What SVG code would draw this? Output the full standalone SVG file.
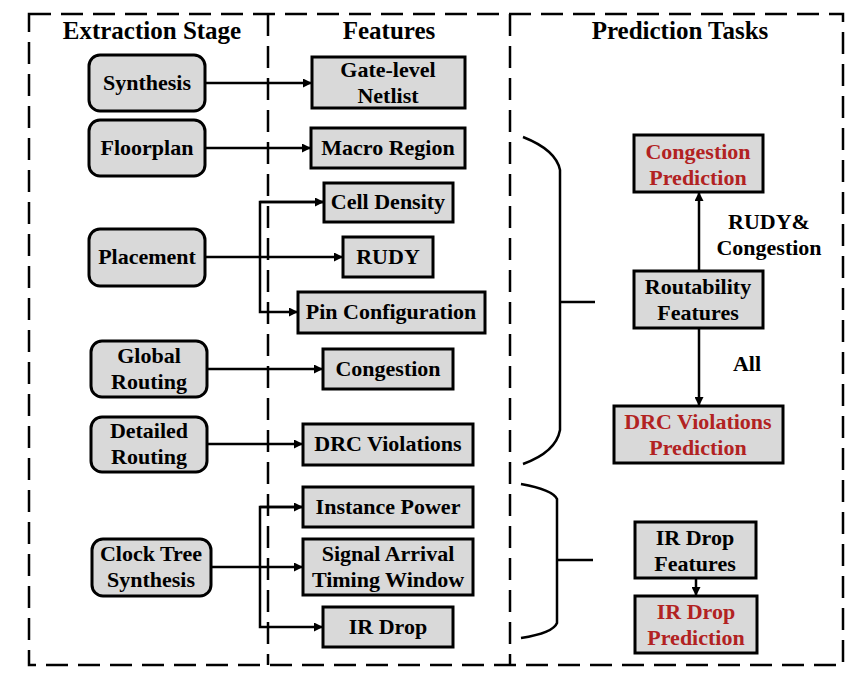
<svg xmlns="http://www.w3.org/2000/svg" width="864" height="678" viewBox="0 0 864 678" font-family="'Liberation Serif', 'DejaVu Serif', serif" font-weight="bold">
<defs>
<style>
.frame{fill:none;stroke:#000;stroke-width:2.5;stroke-dasharray:22 10}
.stage{fill:#d9d9d9;stroke:#000;stroke-width:3}
.feat{fill:#d9d9d9;stroke:#000;stroke-width:3}
text{text-anchor:middle;fill:#000}
.h{font-size:25px}
.t{font-size:22px}
.red{fill:#b22222}
.c{fill:none;stroke:#000;stroke-width:2.5}
</style>
<marker id="ah" viewBox="0 0 10 10" refX="10" refY="5" markerWidth="11" markerHeight="9" markerUnits="userSpaceOnUse" orient="auto">
<path d="M0,0 L10,5 L0,10 z" fill="#000"/>
</marker>
</defs>
<rect fill="#fff" width="864" height="678"/>
<g id="frames">
<rect class="frame" x="29" y="14" width="814" height="651"/>
<line class="frame" x1="268" y1="14" x2="268" y2="665"/>
<line class="frame" x1="510" y1="14" x2="510" y2="665"/>
</g>
<g id="headings">
<text class="h" x="152" y="39">Extraction Stage</text>
<text class="h" x="389" y="39">Features</text>
<text class="h" x="680" y="39">Prediction Tasks</text>
</g>
<g id="connectors">
<line class="c" x1="205" y1="83" x2="312" y2="83" marker-end="url(#ah)"/>
<line class="c" x1="205" y1="148" x2="311" y2="148" marker-end="url(#ah)"/>
<line class="c" x1="205" y1="257" x2="343" y2="257" marker-end="url(#ah)"/>
<path class="c" d="M324,202 H260 V312 H298" marker-end="url(#ah)"/>
<path class="c" d="M260,202 H324" marker-end="url(#ah)"/>
<line class="c" x1="207" y1="369" x2="323" y2="369" marker-end="url(#ah)"/>
<line class="c" x1="207" y1="444" x2="303" y2="444" marker-end="url(#ah)"/>
<line class="c" x1="211" y1="567" x2="303" y2="567" marker-end="url(#ah)"/>
<path class="c" d="M303,507 H260 V627 H323" marker-end="url(#ah)"/>
<path class="c" d="M260,507 H303" marker-end="url(#ah)"/>
<path class="c" d="M523,137 Q556,150 560,170 V430 Q556,452 523,464"/>
<line class="c" x1="560" y1="302" x2="595" y2="302"/>
<path class="c" d="M521,484 Q553,490 557,499 V623 Q553,633 521,638"/>
<line class="c" x1="557" y1="560" x2="593" y2="560"/>
<line class="c" x1="699" y1="271" x2="699" y2="192" marker-end="url(#ah)"/>
<line class="c" x1="699" y1="328" x2="699" y2="406" marker-end="url(#ah)"/>
<line class="c" x1="696" y1="578" x2="696" y2="596" marker-end="url(#ah)"/>
<text class="t" x="769" y="229">RUDY&amp;</text>
<text class="t" x="769" y="255">Congestion</text>
<text class="t" x="747" y="371">All</text>
</g>
<g id="synthesis"><rect class="stage" x="89" y="55" width="116" height="56" rx="11"/><text class="t" x="147" y="90">Synthesis</text></g>
<g id="floorplan"><rect class="stage" x="89" y="120" width="116" height="56" rx="11"/><text class="t" x="147" y="155">Floorplan</text></g>
<g id="placement"><rect class="stage" x="89" y="229" width="116" height="57" rx="11"/><text class="t" x="147" y="264">Placement</text></g>
<g id="global-routing"><rect class="stage" x="91" y="341" width="116" height="56" rx="11"/><text class="t" x="149" y="363">Global</text><text class="t" x="149" y="389">Routing</text></g>
<g id="detailed-routing"><rect class="stage" x="91" y="417" width="116" height="55" rx="11"/><text class="t" x="149" y="438">Detailed</text><text class="t" x="149" y="464">Routing</text></g>
<g id="cts"><rect class="stage" x="92" y="539" width="119" height="57" rx="11"/><text class="t" x="151" y="561">Clock Tree</text><text class="t" x="151" y="587">Synthesis</text></g>
<g id="gate-netlist"><rect class="feat" x="312" y="57" width="153" height="51"/><text class="t" x="388" y="77">Gate-level</text><text class="t" x="388" y="103">Netlist</text></g>
<g id="macro-region"><rect class="feat" x="311" y="128" width="154" height="40"/><text class="t" x="388" y="155">Macro Region</text></g>
<g id="cell-density"><rect class="feat" x="324" y="183" width="129" height="39"/><text class="t" x="388" y="209">Cell Density</text></g>
<g id="rudy"><rect class="feat" x="343" y="237" width="90" height="40"/><text class="t" x="388" y="264">RUDY</text></g>
<g id="pin-config"><rect class="feat" x="298" y="292" width="187" height="41"/><text class="t" x="391" y="319">Pin Configuration</text></g>
<g id="congestion"><rect class="feat" x="323" y="349" width="130" height="40"/><text class="t" x="388" y="376">Congestion</text></g>
<g id="drc-violations"><rect class="feat" x="303" y="424" width="170" height="41"/><text class="t" x="388" y="451">DRC Violations</text></g>
<g id="instance-power"><rect class="feat" x="303" y="487" width="170" height="40"/><text class="t" x="388" y="514">Instance Power</text></g>
<g id="signal-arrival"><rect class="feat" x="303" y="539" width="170" height="56"/><text class="t" x="388" y="561">Signal Arrival</text><text class="t" x="388" y="587">Timing Window</text></g>
<g id="ir-drop"><rect class="feat" x="323" y="607" width="130" height="40"/><text class="t" x="388" y="634">IR Drop</text></g>
<g id="congestion-pred"><rect class="feat" x="634" y="135" width="129" height="57"/><text class="t red" x="698" y="159">Congestion</text><text class="t red" x="698" y="185">Prediction</text></g>
<g id="routability"><rect class="feat" x="634" y="271" width="129" height="57"/><text class="t" x="698" y="294">Routability</text><text class="t" x="698" y="320">Features</text></g>
<g id="drc-pred"><rect class="feat" x="614" y="406" width="169" height="57"/><text class="t red" x="698" y="429">DRC Violations</text><text class="t red" x="698" y="455">Prediction</text></g>
<g id="ir-features"><rect class="feat" x="635" y="522" width="121" height="56"/><text class="t" x="695" y="545">IR Drop</text><text class="t" x="695" y="571">Features</text></g>
<g id="ir-pred"><rect class="feat" x="635" y="596" width="122" height="57"/><text class="t red" x="696" y="619">IR Drop</text><text class="t red" x="696" y="645">Prediction</text></g>
</svg>
